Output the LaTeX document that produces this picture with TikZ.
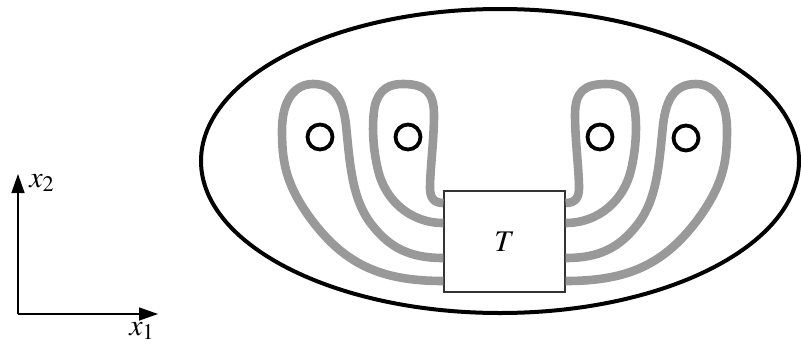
\documentclass[tikz,border=0pt]{standalone}
\usepackage{mathptmx}
\usetikzlibrary{arrows.meta}

\begin{document}
\begin{tikzpicture}[x=0.5pt, y=-0.5pt, font=\fontsize{15}{17}\selectfont,
  >={Triangle[length=9.5pt, width=6.5pt]},
  strand/.style={draw=black!40, line width=4.3pt},
  ring/.style={circle, draw, line width=1.9pt, minimum size=12.5pt, inner sep=0pt},
  axis/.style={->, line width=0.7pt}]
\useasboundingbox (0,0) rectangle (801,348);
% domain
\draw[line width=2pt] (500,161) ellipse [x radius=299, y radius=152];
\node[draw=black!80, line width=0.6pt, fill=white, minimum width=60.5pt, minimum height=50.5pt, inner sep=0pt] (T) at (504.5,241.5) {$T$};
\node[ring] (h1) at (320,137) {};
\node[ring] (h2) at (408,137) {};
\node[ring] (h3) at (600,137) {};
\node[ring] (h4) at (686,138) {};
% strands, left half mirrored to the right
\foreach \s/\a in {1/west,-1/east}{
  \begin{scope}[shift={(504.5,0)}, xscale=\s]
    \draw[strand] (T.\a |- 0,281) .. controls (-124.5,281) and (-161.5,264) .. (-196.5,215)
      .. controls (-219.5,182) and (-222.5,160) .. (-222.5,130)
      .. controls (-222.5,100) and (-209.5,84) .. (-191.5,84)
      .. controls (-169.5,84) and (-161.5,100) .. (-158.5,125)
      .. controls (-154.5,165) and (-152.5,200) .. (-132.5,225)
      .. controls (-114.5,248) and (-94.5,258) .. (T.\a |- 0,258);
    \draw[strand] (T.\a |- 0,223) .. controls (-94.5,223) and (-119.5,200) .. (-126.5,170)
      .. controls (-132.5,145) and (-132.5,120) .. (-129.5,105)
      .. controls (-124.5,88) and (-114.5,84) .. (-101.5,84)
      .. controls (-79.5,84) and (-70.5,92) .. (-70.5,115)
      .. controls (-70.5,140) and (-74.5,170) .. (-74.5,188)
      .. controls (-74.5,198) and (-70.5,203) .. (T.\a |- 0,203);
  \end{scope}
}
% axes
\coordinate (o) at (18,314);
\coordinate (e1) at (158,314);
\coordinate (e2) at (18,174);
\draw[axis] (o) -- (e1);
\draw[axis] (o) -- (e2);
\node[anchor=west, inner sep=1pt] (x2) at (27,183) {$x_2$};
\node[inner sep=1pt] (x1) at (142,331) {$x_1$};
\end{tikzpicture}
\end{document}
